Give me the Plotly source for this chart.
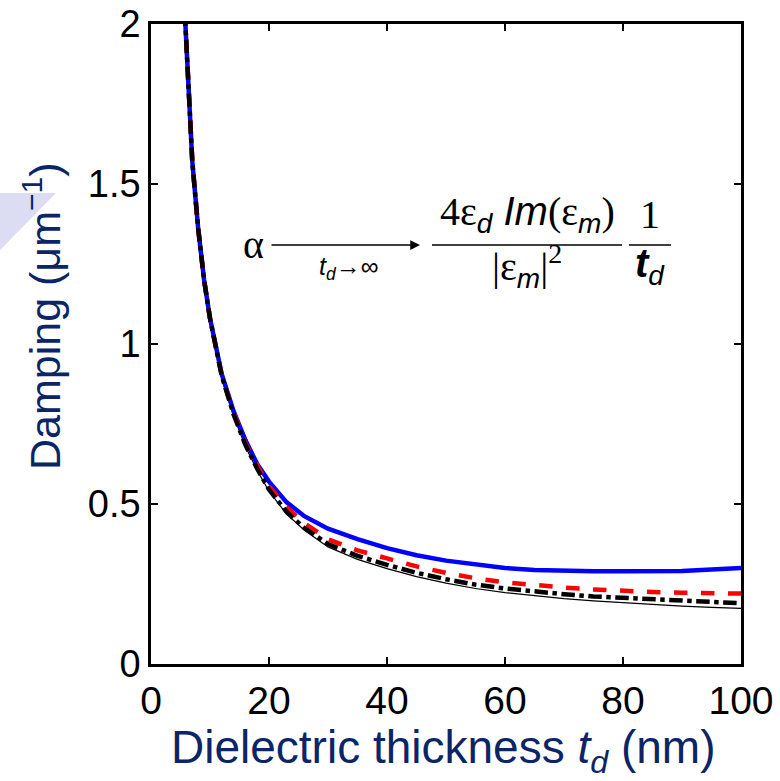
import plotly.graph_objects as go

# ---------------- data ----------------
thickness = [5.5, 5.8, 6.5, 7, 8, 9, 10, 12, 14, 16, 18, 20, 23, 26, 30, 35, 40, 45,
             50, 55, 60, 65, 70, 75, 80, 85, 90, 95, 100]
damping_blue = [2.12, 2.0, 1.72, 1.57, 1.36, 1.20, 1.08, 0.905, 0.79, 0.70, 0.625, 0.57,
                0.505, 0.462, 0.423, 0.39, 0.362, 0.34, 0.323, 0.31, 0.30, 0.294, 0.291,
                0.29, 0.29, 0.29, 0.291, 0.295, 0.30]
damping_red = [2.12, 2.0, 1.72, 1.57, 1.36, 1.20, 1.08, 0.90, 0.785, 0.69, 0.62, 0.555,
               0.49, 0.44, 0.39, 0.355, 0.33, 0.305, 0.285, 0.268, 0.255, 0.246, 0.239,
               0.233, 0.228, 0.225, 0.223, 0.221, 0.22]
damping_black = [2.12, 2.0, 1.72, 1.57, 1.36, 1.20, 1.08, 0.90, 0.78, 0.685, 0.61, 0.545,
                 0.475, 0.425, 0.375, 0.338, 0.31, 0.285, 0.265, 0.248, 0.236, 0.226,
                 0.218, 0.211, 0.206, 0.202, 0.198, 0.194, 0.19]
damping_thin = [2.12, 2.0, 1.72, 1.57, 1.36, 1.20, 1.08, 0.895, 0.775, 0.68, 0.605, 0.54,
                0.468, 0.418, 0.366, 0.327, 0.298, 0.273, 0.253, 0.236, 0.223, 0.213,
                0.204, 0.197, 0.191, 0.186, 0.181, 0.177, 0.174]

x_ticks = [0, 20, 40, 60, 80, 100]
x_ticktext = ["0", "20", "40", "60", "80", "100"]
y_ticks = [0, 0.5, 1, 1.5, 2]
y_ticktext = ["0", "0.5", "1", "1.5", "2"]

NAVY = "#0b2567"
SANS = "Liberation Sans, Arial, sans-serif"
SERIF = "Liberation Serif, Times New Roman, serif"

fig = go.Figure()
fig.add_trace(go.Scatter(x=thickness, y=damping_thin, mode="lines",
                         line=dict(color="black", width=1.2), showlegend=False))
fig.add_trace(go.Scatter(x=thickness, y=damping_blue, mode="lines",
                         line=dict(color="#0000ff", width=4.5), showlegend=False))
fig.add_trace(go.Scatter(x=thickness, y=damping_red, mode="lines",
                         line=dict(color="#ff0000", width=4.5, dash="dash"), showlegend=False))
fig.add_trace(go.Scatter(x=thickness, y=damping_black, mode="lines",
                         line=dict(color="black", width=4.5, dash="dashdot"), showlegend=False))

# plot area in pixels
L, R, T, B = 151, 741, 24, 664
W, H = 780, 781


def px(xp):
    return (xp - L) / (R - L)


def py(yp):
    return (B - yp) / (B - T)


fig.update_layout(
    width=W, height=H,
    margin=dict(l=L, r=W - R, t=T, b=H - B, autoexpand=False),
    paper_bgcolor="white", plot_bgcolor="white",
    showlegend=False,
    xaxis=dict(range=[0, 100], tickvals=x_ticks, ticktext=x_ticktext, automargin=False,
               showgrid=False, zeroline=False, showline=True, linecolor="black",
               linewidth=2.5, mirror="ticks", ticks="inside", ticklen=7, tickwidth=2,
               tickcolor="black", tickfont=dict(family=SANS, size=39, color="black")),
    yaxis=dict(range=[0, 2], tickvals=y_ticks, ticktext=y_ticktext, automargin=False,
               showgrid=False, zeroline=False, showline=True, linecolor="black",
               linewidth=2.5, mirror="ticks", ticks="inside", ticklen=7, tickwidth=2,
               tickcolor="black", tickfont=dict(family=SANS, size=38, color="black")),
)


def note(x, y, text, size, family=SANS, color="black", **kw):
    fig.add_annotation(xref="paper", yref="paper", x=px(x), y=py(y), text=text,
                       showarrow=False, xanchor="center", yanchor="middle",
                       font=dict(family=family, size=size, color=color), **kw)


# decorative lavender triangle at the left edge
fig.add_shape(type="path", xref="paper", yref="paper", layer="below",
              path=f"M {px(0)},{py(193)} L {px(56)},{py(193)} L {px(0)},{py(250)} Z",
              fillcolor="#dcdcf3", line=dict(width=0))

# axis titles
note(42, 316, "Damping (μm<sup>−1</sup>)", 43, color=NAVY, textangle=-90)
note(443, 750, "Dielectric thickness <i>t</i><sub><i>d</i></sub> (nm)", 46, color=NAVY)

# formula
note(253, 244, "α", 40, family=SERIF)
fig.add_annotation(xref="paper", yref="paper", x=px(420), y=py(245), text="",
                   showarrow=True, ax=-150, ay=0, arrowhead=2, arrowsize=1.3,
                   arrowwidth=1.5, arrowcolor="black")
note(349, 268, "<i>t</i><sub><i>d</i></sub>→∞", 25)
note(527, 214,
     "<span style='font-family:Liberation Serif'>4ε</span><sub><i>d</i></sub>"
     " <i>Im</i><span style='font-family:Liberation Serif'>(ε</span>"
     "<sub><i>m</i></sub><span style='font-family:Liberation Serif'>)</span>", 40)
fig.add_shape(type="line", xref="paper", yref="paper", x0=px(432), x1=px(622),
              y0=py(245), y1=py(245), line=dict(color="black", width=1.5))
note(527, 266,
     "<span style='font-family:Liberation Serif'>|ε</span><sub><i>m</i></sub>"
     "<span style='font-family:Liberation Serif'>|<sup>2</sup></span>", 40)
note(650, 214, "1", 40, family=SERIF)
fig.add_shape(type="line", xref="paper", yref="paper", x0=px(629), x1=px(671),
              y0=py(245), y1=py(245), line=dict(color="black", width=1.5))
note(650, 266, "<b><i>t</i></b><sub><i>d</i></sub>", 40)

fig.write_html("out.html")
